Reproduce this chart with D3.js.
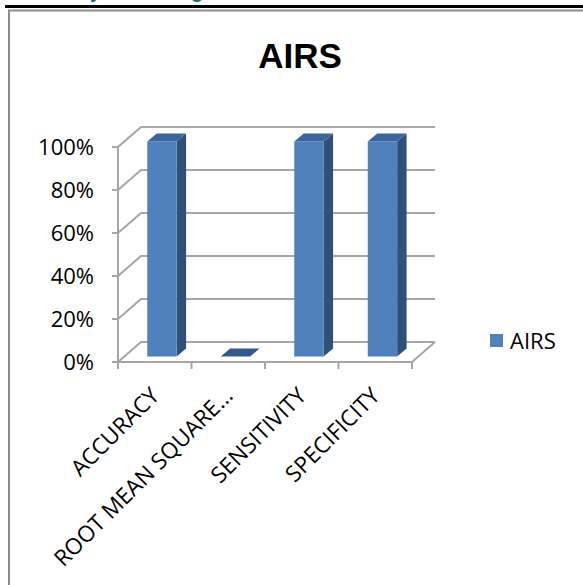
<!DOCTYPE html>
<html>
<head>
<meta charset="utf-8">
<script src="https://cdn.jsdelivr.net/npm/d3@7"></script>
<style>
  body { margin: 0; background: #fff; }
  svg { display: block; font-family: "Open Sans", sans-serif; }
</style>
</head>
<body>
<div id="chart"></div>
<script>
// chart data
const categories = ['ACCURACY', 'ROOT MEAN SQUARE...', 'SENSITIVITY', 'SPECIFICITY'];
const airsValues = [1.0, 0.0, 1.0, 1.0];
const seriesName = 'AIRS';
const yTicks = [0, 0.2, 0.4, 0.6, 0.8, 1.0];

const width = 583;
const height = 585;

const svg = d3.select('#chart')
    .append('svg')
    .attr('width', width)
    .attr('height', height);

// page bits around the chart (heading cut off at the top, rule, frame)
svg.append('text')
    .attr('x', 11)
    .attr('y', -2)
    .attr('font-family', 'Liberation Sans, sans-serif')
    .attr('font-weight', 'bold')
    .attr('font-size', 20)
    .attr('fill', '#1f6b7b')
    .text('Accuracy Percentage');

svg.append('rect')
    .attr('x', 5).attr('y', 5)
    .attr('width', width - 5).attr('height', 3)
    .attr('fill', '#000');

svg.append('path')
    .attr('d', `M9,${height} V10.5 H${width}`)
    .attr('fill', 'none')
    .attr('stroke', '#8c8c8c')
    .attr('stroke-width', 2);

// title
svg.append('text')
    .attr('x', 300)
    .attr('y', 68)
    .attr('text-anchor', 'middle')
    .attr('font-family', 'Liberation Sans, sans-serif')
    .attr('font-weight', 'bold')
    .attr('font-size', 35)
    .attr('fill', '#000')
    .text('AIRS');

// scales (front plane)
const x = d3.scaleBand()
    .domain(categories)
    .range([118, 412]);

const y = d3.scaleLinear()
    .domain([0, 1])
    .range([362, 147]);

// oblique depth projection, z from 0 (front) to 1 (back wall)
const depthX = 23;
const depthY = -20;
function proj(px, py, z) {
    return [px + z * depthX, py + z * depthY];
}

const gridColor = '#a6a6a6';
const grid = svg.append('g')
    .attr('fill', 'none')
    .attr('stroke', gridColor)
    .attr('stroke-width', 2);

const x0 = x.range()[0];
const x1 = x.range()[1];

// back wall gridlines + side wall diagonals
yTicks.forEach(t => {
    const a = proj(x0, y(t), 0);
    const b = proj(x0, y(t), 1);
    const c = proj(x1, y(t), 1);
    grid.append('path')
        .attr('d', `M${a[0]},${a[1]} L${b[0]},${b[1]} L${c[0]},${c[1]}`);
});

// floor right edge and front x axis
const br = proj(x1, y(0), 1);
grid.append('path').attr('d', `M${x0},${y(0)} H${x1} L${br[0]},${br[1]}`);

// front y axis with ticks
grid.append('path').attr('d', `M${x0},${y(1)} V${y(0)}`);
yTicks.forEach(t => {
    grid.append('path').attr('d', `M${x0 - 6},${y(t)} H${x0}`);
});

// category ticks at band boundaries
const bounds = categories.map(c => x(c)).concat([x1]);
bounds.forEach(b => {
    grid.append('path').attr('d', `M${b},${y(0)} V${y(0) + 7}`);
});

// y labels
const pct = d3.format('.0%');
svg.append('g')
    .selectAll('text')
    .data(yTicks)
    .enter().append('text')
    .attr('x', 94)
    .attr('y', d => y(d))
    .attr('dy', '0.36em')
    .attr('text-anchor', 'end')
    .attr('font-size', 22)
    .attr('fill', '#000')
    .text(d => pct(d));

// category labels
svg.append('g')
    .selectAll('text')
    .data(categories)
    .enter().append('text')
    .attr('transform', d => `translate(${x(d) + x.bandwidth() / 2 + 6},${y(0) + 35}) rotate(-45)`)
    .attr('text-anchor', 'end')
    .attr('font-size', 22.5)
    .attr('fill', '#000')
    .text(d => d);

// 3d bars
const barW = x.bandwidth() * 0.4;
const zFront = 0.27;
const zBack = 0.68;
const colFront = '#4f81bd';
const colSide = '#2e5079';
const colTop = '#3c659c';

const bars = svg.append('g');
categories.forEach((c, i) => {
    const v = airsValues[i];
    const l = x(c) + (x.bandwidth() - barW) / 2 + 1;
    const r = l + barW;
    const yb = y(0);
    const yt = y(v);
    const pts = (arr) => arr.map(p => p.join(',')).join(' ');

    const fl_t = proj(l, yt, zFront), fr_t = proj(r, yt, zFront);
    const fl_b = proj(l, yb, zFront), fr_b = proj(r, yb, zFront);
    const bl_t = proj(l, yt, zBack), br_t = proj(r, yt, zBack);
    const br_b = proj(r, yb, zBack);

    if (v > 0) {
        bars.append('polygon')
            .attr('points', pts([fr_t, br_t, br_b, fr_b]))
            .attr('fill', colSide);
        bars.append('polygon')
            .attr('points', pts([fl_t, fr_t, fr_b, fl_b]))
            .attr('fill', colFront);
    }
    bars.append('polygon')
        .attr('points', pts([fl_t, bl_t, br_t, fr_t]))
        .attr('fill', v > 0 ? colTop : '#35598a');
});

// legend
const legend = svg.append('g').attr('transform', 'translate(490,334)');
legend.append('rect')
    .attr('width', 13)
    .attr('height', 13)
    .attr('fill', colFront);
legend.append('text')
    .attr('x', 20)
    .attr('y', 7)
    .attr('dy', '0.36em')
    .attr('font-size', 22)
    .attr('fill', '#000')
    .text(seriesName);
</script>
</body>
</html>
